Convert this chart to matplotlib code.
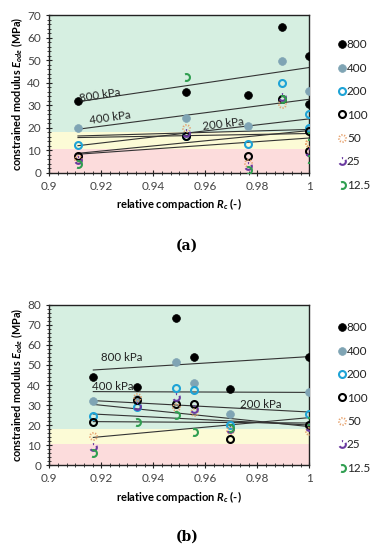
import numpy as np
import matplotlib
matplotlib.use("Agg")
import matplotlib.pyplot as plt
from matplotlib.path import Path
from matplotlib.ticker import MultipleLocator, FormatStrFormatter

plt.rcParams['font.family'] = ['Lato', 'DejaVu Sans']
plt.rcParams['mathtext.fontset'] = 'custom'
plt.rcParams['mathtext.it'] = 'Lato:italic:bold'
plt.rcParams['mathtext.rm'] = 'Lato:bold'

# ---- data: panel (a) ----
rc_a = [0.911, 0.9526, 0.9764, 0.9894, 1.0, 1.0]
a_800 = [32.0, 35.9, 34.6, 64.7, 51.6, 30.7]
a_400 = [19.7, 24.1, 20.7, 49.5, 36.4, 19.5]
a_200 = [12.3, 16.5, 12.6, 39.7, 25.9, 19.7]
a_100 = [7.6, 16.3, 7.6, 32.6, 18.7, 9.5]
a_50 = [6.0, 19.7, 4.3, 30.3, 13.3, 13.0]
a_25 = [5.5, 17.5, 2.8, 33.5, 9.3, 9.0]
a_12 = [3.8, 42.7, 1.3, 32.5, 6.3, 16.3]
trend_a_x = [0.911, 1.0]
trend_a_start = [31.5, 19.3, 12.0, 8.6, 8.2, 16.3, 15.6]
trend_a_end = [46.7, 32.6, 23.9, 18.7, 15.4, 19.2, 17.4]

# ---- data: panel (b) ----
rc_b = [0.9169, 0.9338, 0.9486, 0.9555, 0.9694, 1.0]
b_800 = [43.8, 38.8, 73.3, 54.0, 37.8, 54.0]
b_400 = [32.2, 33.0, 51.3, 41.2, 25.5, 36.7]
b_200 = [24.7, 29.0, 38.3, 37.5, 20.0, 25.7]
b_100 = [21.7, 32.5, 30.5, 30.3, 13.0, 20.0]
b_50 = [14.5, 34.2, 29.2, 26.7, 17.5, 17.2]
b_25 = [8.8, 29.5, 34.2, 28.0, 18.0, 18.8]
b_12 = [6.2, 21.3, 25.0, 16.3, 18.5, 22.2]
trend_b_x = [0.9169, 1.0]
trend_b_start = [47.5, 36.7, 32.2, 21.7, 13.8, 30.3, 25.5]
trend_b_end = [54.2, 36.3, 26.5, 21.0, 23.7, 19.2, 20.0]

labels = ['800', '400', '200', '100', '50', '25', '12.5']
band_red = 10.7
band_yellow = 18.0


def arcs(pairs):
    return Path.make_compound_path(*[Path.arc(t1, t2) for t1, t2 in pairs])


dotted = arcs([(a, a + 18) for a in range(0, 360, 45)])
purple_m = arcs([(80, 100), (-150, 30)])
green_m = arcs([(-115, 115)])

styles = [
    dict(marker='o', color='black', mfc='black', mew=0.5, ms=5.6),
    dict(marker='o', color='#7fa4b4', mfc='#7fa4b4', mew=0.5, ms=5.6),
    dict(marker='o', color='#1ea3d6', mfc='none', mew=1.5, ms=5.0),
    dict(marker='o', color='black', mfc='none', mew=1.5, ms=5.0),
    dict(marker=dotted, color='#e6a06a', mfc='none', mew=1.5, ms=5.0),
    dict(marker=purple_m, color='#6a3aa0', mfc='none', mew=1.5, ms=5.0),
    dict(marker=green_m, color='#2f9e50', mfc='none', mew=1.5, ms=5.0),
]

fig = plt.figure(figsize=(3.74, 5.5), dpi=100)
ax_a = fig.add_axes([0.132, 0.686, 0.695, 0.2867])
ax_b = fig.add_axes([0.132, 0.1545, 0.695, 0.291])

panels = [
    (ax_a, rc_a, [a_800, a_400, a_200, a_100, a_50, a_25, a_12],
     trend_a_x, trend_a_start, trend_a_end, 70, 0.92),
    (ax_b, rc_b, [b_800, b_400, b_200, b_100, b_50, b_25, b_12],
     trend_b_x, trend_b_start, trend_b_end, 80, 0.965),
]

for ax, xs, series, tx, ts, te, ymax, leg_y in panels:
    ax.axhspan(0, band_red, color='#fcdcdc', zorder=0, lw=0)
    ax.axhspan(band_red, band_yellow, color='#fcfbd6', zorder=0, lw=0)
    ax.axhspan(band_yellow, ymax, color='#d6efe1', zorder=0, lw=0)
    for y0, y1 in zip(ts, te):
        ax.plot(tx, [y0, y1], color='#333333', lw=0.8, zorder=2)
    for ys, lab, st in zip(series, labels, styles):
        ax.plot(xs, ys, ls='none', label=lab, zorder=3, **st)
    ax.set_xlim(0.9, 1.0)
    ax.set_ylim(0, ymax)
    ax.xaxis.set_major_locator(MultipleLocator(0.02))
    ax.xaxis.set_minor_locator(MultipleLocator(0.02 / 6))
    ax.yaxis.set_major_locator(MultipleLocator(10))
    ax.yaxis.set_minor_locator(MultipleLocator(2))
    ax.xaxis.set_major_formatter(FormatStrFormatter('%g'))
    ax.tick_params(which='major', direction='inout', length=5, width=0.8,
                   labelsize=8.5, color='#222222', labelcolor='#444444')
    ax.tick_params(which='minor', direction='inout', length=3, width=0.6,
                   color='#222222')
    ax.tick_params(axis='y', which='both', right=False)
    for sp in ax.spines.values():
        sp.set_linewidth(1.0)
        sp.set_color('#222222')
    ax.set_xlabel(r'relative compaction $R_c$ (-)', fontsize=8,
                  fontweight='bold', labelpad=3)
    ax.set_ylabel(r'constrained modulus $E_{ode}$ (MPa)', fontsize=7.8,
                  fontweight='bold', labelpad=2)
    ax.legend(loc='upper left', bbox_to_anchor=(1.065, leg_y), frameon=False,
              fontsize=8.5, handlelength=0.6, handletextpad=0.15,
              labelspacing=1.05, borderaxespad=0.6, labelcolor='#222222')

ax_a.text(0.9196, 34.4, '800 kPa', fontsize=8.3, rotation=9,
          ha='center', va='center', color='#222222')
ax_a.text(0.9234, 24.4, '400 kPa', fontsize=8.3, rotation=8,
          ha='center', va='center', color='#222222')
ax_a.text(0.9670, 21.4, '200 kPa', fontsize=8.3, rotation=7,
          ha='center', va='center', color='#222222')
ax_b.text(0.928, 53.5, '800 kPa', fontsize=8.3, ha='center',
          va='center', color='#222222')
ax_b.text(0.9245, 39.5, '400 kPa', fontsize=8.3, ha='center',
          va='center', color='#222222')
ax_b.text(0.9815, 30.5, '200 kPa', fontsize=8.3, ha='center',
          va='center', color='#222222')

fig.text(0.5, 1 - 246 / 550, '(a)', fontsize=10, fontweight='bold',
         family='DejaVu Serif', ha='center', va='center')
fig.text(0.5, 1 - 537 / 550, '(b)', fontsize=10, fontweight='bold',
         family='DejaVu Serif', ha='center', va='center')

fig.savefig('out.png', dpi=100)
